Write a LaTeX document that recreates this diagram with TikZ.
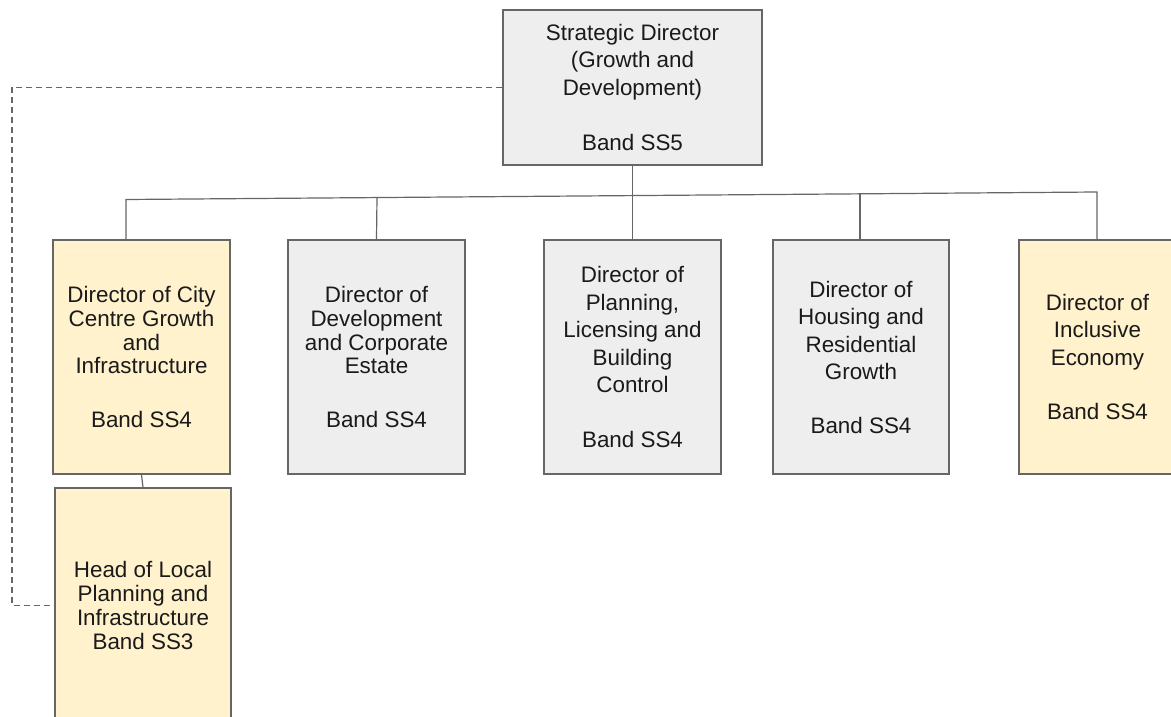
\documentclass[tikz,border=0pt]{standalone}
\usepackage{fontspec}
\setmainfont{Liberation Sans}
\definecolor{bordergray}{HTML}{666666}
\definecolor{boxgray}{HTML}{EEEEEE}
\definecolor{boxyellow}{HTML}{FFF2CC}
\definecolor{txt}{HTML}{1A1A1A}
\begin{document}
\begin{tikzpicture}[x=1pt,y=-1pt,
  box/.style={draw=bordergray, line width=1.4pt, inner sep=0pt, align=center, text=txt,
              font=\fontsize{22.4}{27.5}\selectfont},
  tight/.style={font=\fontsize{22.4}{23.9}\selectfont},
  graybox/.style={box, fill=boxgray},
  yelbox/.style={box, fill=boxyellow},
  conn/.style={draw=bordergray, line width=1.2pt},
  dconn/.style={draw=bordergray, line width=1.3pt, dash pattern=on 6pt off 4pt}]
\useasboundingbox (0,0) rectangle (1171,717);
\clip (0,0) rectangle (1171,717);
\fill[white] (0,0) rectangle (1171,717);

% nodes
\node[graybox, minimum width=259pt, minimum height=155pt] (top) at (632.5,87.5)
  {Strategic Director\\(Growth and\\Development)\\[28pt]Band SS5};
\node[yelbox, tight, minimum width=177pt, minimum height=234pt] (b1) at (141.5,357)
  {Director of City\\Centre Growth\\and\\Infrastructure\\[30pt]Band SS4};
\node[graybox, tight, minimum width=177pt, minimum height=234pt] (b2) at (376.5,357)
  {Director of\\Development\\and Corporate\\Estate\\[30pt]Band SS4};
\node[graybox, minimum width=177pt, minimum height=234pt] (b3) at (632.5,357)
  {Director of\\Planning,\\Licensing and\\Building\\Control\\[27pt]Band SS4};
\node[graybox, minimum width=176pt, minimum height=234pt] (b4) at (861,357)
  {Director of\\Housing and\\Residential\\Growth\\[26pt]Band SS4};
\node[yelbox, minimum width=157pt, minimum height=234pt] (b5) at (1097.5,357)
  {Director of\\Inclusive\\Economy\\[27pt]Band SS4};
\node[yelbox, tight, minimum width=176pt, minimum height=235pt] (b6) at (143,605.5)
  {Head of Local\\Planning and\\Infrastructure\\Band SS3};

% bus
\coordinate (bL) at (126,199.5);
\coordinate (bR) at (1097,192);
\coordinate (j2) at (377,197.6);
\coordinate (j4) at (860,193.8);
\draw[conn] (b1.north -| bL) -- (bL) -- (bR) -- (b5.north -| bR);
\draw[conn] (j2) -- (b2.north);
\draw[conn] (j4) -- (b4.north -| j4);
\draw[conn] (top.south) -- (b3.north);
\draw[conn] (b1.south) -- (b6.north);

% dashed link
\coordinate (d1) at (12,87.5);
\coordinate (d2) at (12,605.5);
\draw[dconn] (top.west) -- (d1) -- (d2) -- (b6.west);
\end{tikzpicture}
\end{document}
